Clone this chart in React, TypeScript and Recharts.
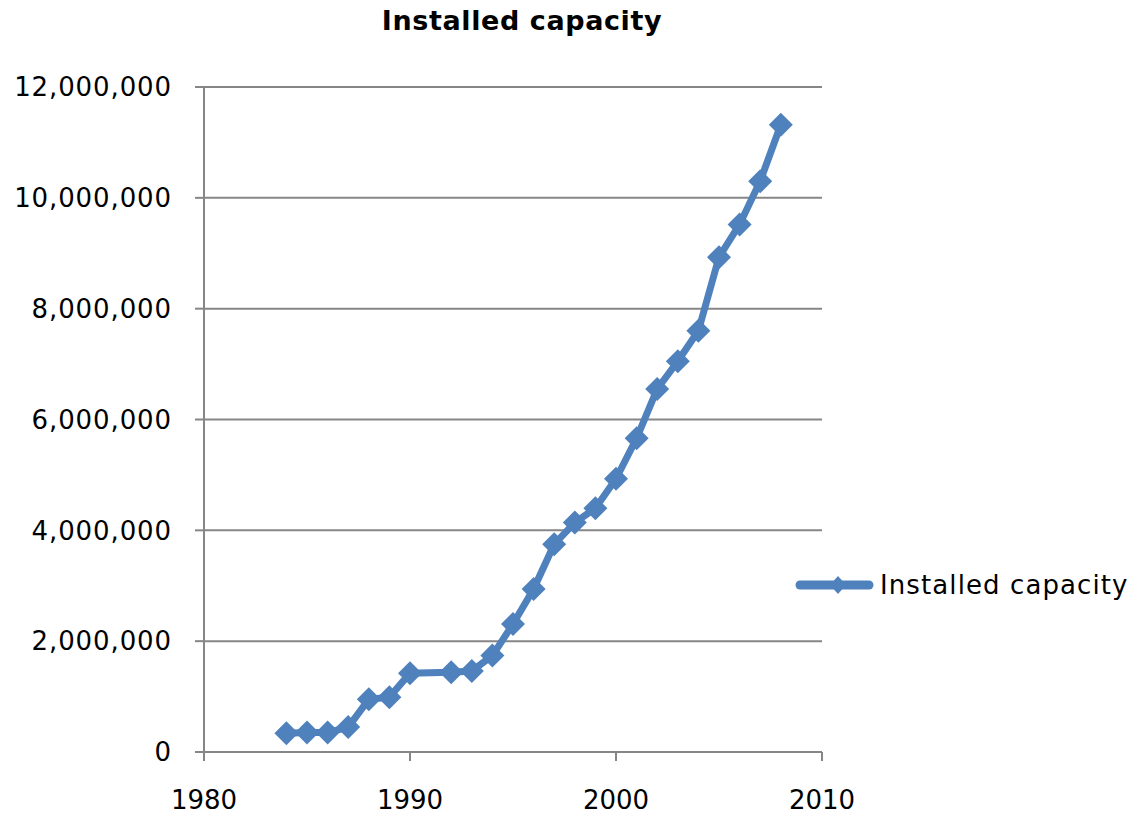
import { LineChart, Line, XAxis, YAxis, CartesianGrid, Legend } from 'recharts'

// Installed capacity by year (no reading for 1991)
const years = [
  1984, 1985, 1986, 1987, 1988, 1989, 1990, 1992, 1993, 1994, 1995, 1996,
  1997, 1998, 1999, 2000, 2001, 2002, 2003, 2004, 2005, 2006, 2007, 2008,
]
const capacity = [
  340000, 350000, 350000, 450000, 950000, 990000, 1420000, 1440000, 1460000,
  1740000, 2310000, 2940000, 3750000, 4140000, 4400000, 4930000, 5660000,
  6550000, 7050000, 7600000, 8930000, 9520000, 10300000, 11320000,
]
const xTicks = [1980, 1990, 2000, 2010]
const yTicks = [0, 2000000, 4000000, 6000000, 8000000, 10000000, 12000000]

const SERIES_NAME = 'Installed capacity'
const BLUE = '#4F81BD'
const GRID = '#868686'
const FONT = '"DejaVu Sans", Verdana, sans-serif'

const data = years.map((year, i) => ({ year, value: capacity[i] }))

function Diamond(props: any) {
  const { cx, cy } = props
  if (cx == null || cy == null) return null
  const r = 12
  return (
    <polygon
      points={`${cx},${cy - r} ${cx + r},${cy} ${cx},${cy + r} ${cx - r},${cy}`}
      fill={BLUE}
    />
  )
}

function LegendContent() {
  return (
    <svg width={340} height={30} style={{ overflow: 'visible' }}>
      <line x1={5} y1={15} x2={74} y2={15} stroke={BLUE} strokeWidth={9} strokeLinecap="round" />
      <polygon points="43,6 51,15 43,24 35,15" fill={BLUE} />
      <text x={85} y={15} dy="0.35em" fontFamily={FONT} fontSize={26} letterSpacing={1.1} fill="#000">
        {SERIES_NAME}
      </text>
    </svg>
  )
}

export default function App() {
  return (
    <div style={{ position: 'absolute', left: 0, top: 0, width: 1136, height: 816, background: '#fff' }}>
      <div
        style={{
          position: 'absolute',
          left: 0,
          width: 1044,
          top: 5,
          textAlign: 'center',
          fontFamily: FONT,
          fontWeight: 'bold',
          fontSize: 27,
          letterSpacing: 0.6,
          color: '#000',
        }}
      >
        {SERIES_NAME}
      </div>
      <LineChart width={1136} height={816} data={data} margin={{ top: 87, right: 314, bottom: 0, left: 0 }}>
        <CartesianGrid vertical={false} stroke={GRID} strokeWidth={2} />
        <XAxis
          dataKey="year"
          type="number"
          domain={[1980, 2010]}
          ticks={xTicks}
          height={64}
          stroke={GRID}
          strokeWidth={2}
          tickSize={9}
          tickMargin={30}
          tick={{ fill: '#000', fontSize: 26, fontFamily: FONT }}
        />
        <YAxis
          domain={[0, 12000000]}
          ticks={yTicks}
          width={204}
          stroke={GRID}
          strokeWidth={2}
          tickSize={9}
          tickMargin={23}
          tickFormatter={(v: number) => v.toLocaleString('en-US')}
          tick={{ fill: '#000', fontSize: 26, fontFamily: FONT, letterSpacing: 0.9 }}
        />
        <Legend
          layout="horizontal"
          verticalAlign="middle"
          align="center"
          content={<LegendContent />}
          wrapperStyle={{ left: 795, top: 570, width: 341, height: 30 }}
        />
        <Line
          type="linear"
          dataKey="value"
          name={SERIES_NAME}
          stroke={BLUE}
          strokeWidth={7}
          dot={<Diamond />}
          activeDot={false}
          isAnimationActive={false}
        />
      </LineChart>
    </div>
  )
}
